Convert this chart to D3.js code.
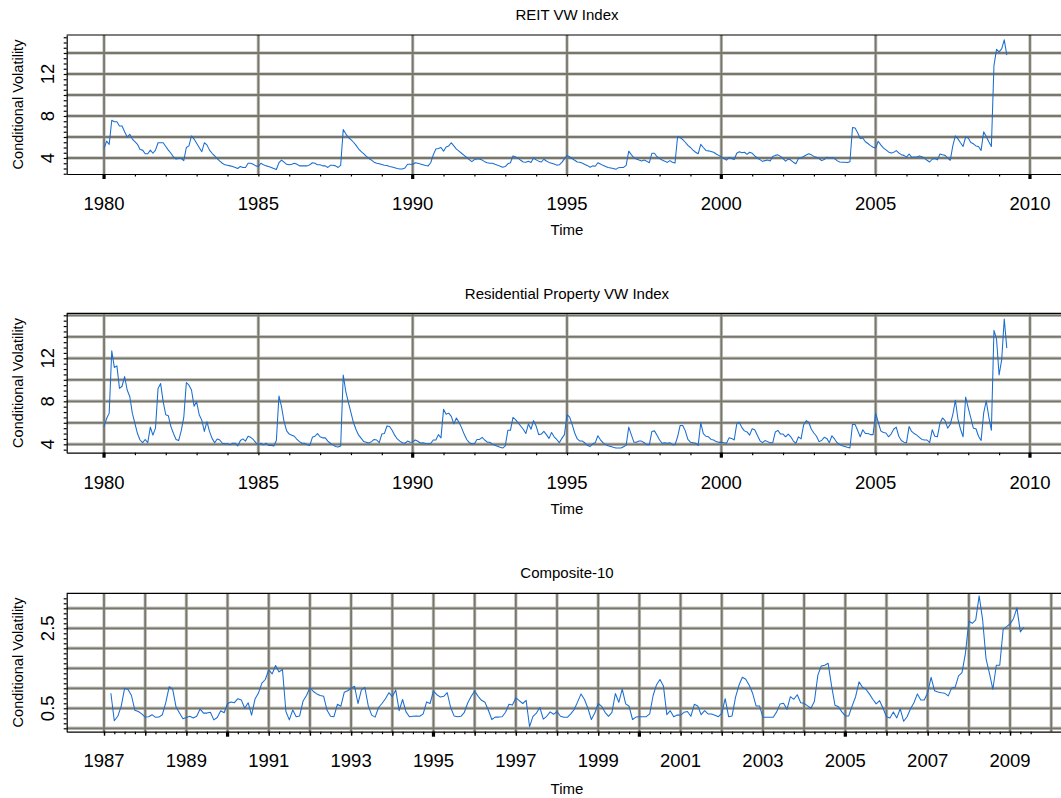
<!DOCTYPE html>
<html>
<head>
<meta charset="utf-8">
<script src="https://cdn.jsdelivr.net/npm/d3@7"></script>
<style>
  html, body { margin: 0; padding: 0; background: #fff; }
  svg { display: block; }
  text { font-family: "Liberation Sans", Arial, Helvetica, sans-serif; fill: #000; }
</style>
</head>
<body>
<svg id="chart" width="1061" height="798"></svg>
<script>
// ---- Monthly conditional volatility series ----

// REIT VW Index, January 1980 onwards
const reitStart = 1980;
const reitValues = [
  4.9, 5.6, 5.3, 7.6, 7.45, 7.45, 7.05, 7.05, 6.5, 6.0, 6.25, 5.8,
  5.55, 5.3, 4.8, 4.75, 4.4, 4.4, 4.75, 4.45, 4.75, 5.45, 5.45, 5.45,
  5.1, 4.75, 4.45, 4.1, 3.9, 3.95, 3.95, 3.75, 5.0, 5.15, 6.1, 5.8,
  5.4, 5.0, 4.6, 5.45, 5.25, 4.75, 4.45, 4.2, 3.95, 3.7, 3.5, 3.35,
  3.3, 3.25, 3.2, 3.1, 3.0, 3.2, 3.1, 3.1, 3.5, 3.5, 3.4, 3.25,
  3.2, 3.5, 3.35, 3.25, 3.2, 3.1, 3.0, 2.9, 3.55, 3.8, 3.6, 3.4,
  3.35, 3.4, 3.5, 3.4, 3.25, 3.25, 3.25, 3.25, 3.35, 3.55, 3.5, 3.35,
  3.35, 3.25, 3.25, 3.1, 3.3, 3.3, 3.25, 3.1, 3.3, 6.7, 6.3, 5.95,
  5.75, 5.5, 5.2, 4.85, 4.6, 4.4, 4.15, 3.95, 3.8, 3.6, 3.5, 3.45,
  3.38, 3.3, 3.28, 3.2, 3.15, 3.08, 3.0, 2.95, 2.95, 3.05, 3.4, 3.4,
  3.38, 3.55, 3.5, 3.42, 3.35, 3.28, 3.25, 3.55, 4.3, 4.85, 4.9, 5.0,
  4.65, 5.05, 5.15, 5.45, 5.15, 4.85, 4.65, 4.45, 4.25, 4.05, 3.85, 3.65,
  3.85, 3.9, 3.9, 3.8, 3.65, 3.55, 3.5, 3.5, 3.4, 3.32, 3.22, 3.12,
  3.18, 3.45, 3.55, 4.2, 4.1, 3.98, 3.78, 3.62, 3.6, 3.68, 3.58, 4.0,
  3.82, 3.7, 3.62, 3.88, 3.72, 3.58, 3.5, 3.42, 3.32, 3.35, 3.58, 3.92,
  4.25, 4.12, 3.95, 3.78, 3.62, 3.6, 3.5, 3.38, 3.27, 3.12, 3.25, 3.22,
  3.55, 3.42, 3.3, 3.2, 3.1, 3.05, 3.0, 2.92, 3.08, 3.1, 3.1, 3.3,
  4.65, 4.32, 4.02, 3.9, 3.8, 3.72, 3.8, 3.7, 3.55, 4.45, 4.45, 4.12,
  3.95, 3.8, 3.7, 3.58, 3.75, 3.6, 3.52, 6.05, 5.95, 5.75, 5.5, 5.2,
  5.0, 4.75, 4.55, 4.4, 5.3, 5.0, 4.72, 4.68, 4.62, 4.55, 4.38, 4.25,
  4.1, 3.95, 3.8, 4.05, 3.95, 3.85, 4.45, 4.6, 4.5, 4.55, 4.35, 4.55,
  4.45, 4.2, 4.0, 3.85, 3.68, 3.75, 3.8, 3.72, 4.15, 4.25, 4.3, 4.15,
  3.95, 3.7, 3.9, 3.8, 3.6, 3.45, 3.95, 4.0, 4.15, 4.28, 4.4, 4.3,
  4.15, 4.08, 3.95, 3.75, 3.85, 4.08, 4.0, 4.05, 3.95, 3.75, 3.62, 3.6,
  3.6, 3.57, 3.65, 6.9, 6.85, 6.4, 5.85, 5.9, 5.55, 5.38, 5.18, 5.02,
  4.95, 5.6, 5.25, 4.97, 4.78, 4.58, 4.47, 4.53, 4.7, 4.48, 4.32, 4.25,
  4.08, 4.38, 4.08, 4.1, 4.1, 4.18, 4.12, 3.97, 3.78, 3.62, 3.88, 3.95,
  3.82, 4.38, 4.3, 4.25, 4.02, 3.78, 5.15, 6.1, 5.82, 5.45, 5.1, 6.0,
  5.9, 5.48, 5.35, 5.15, 5.1, 4.72, 6.5, 6.05, 5.55, 5.1, 12.8, 14.35,
  14.1, 14.4, 15.25, 13.8
];

// Residential Property VW Index, January 1980 onwards
const residentialStart = 1980;
const residentialValues = [
  5.65, 6.4, 6.9, 12.7, 11.15, 11.3, 9.2, 9.4, 10.3, 9.05, 8.45, 6.9,
  5.95, 5.0, 4.4, 4.15, 4.45, 4.15, 5.6, 4.85, 5.5, 9.2, 9.65, 7.95,
  6.75, 6.65, 5.65, 5.0, 4.45, 4.35, 5.25, 6.5, 9.75, 9.5, 9.05, 7.55,
  7.95, 6.75, 6.25, 5.2, 6.1, 5.2, 4.55, 4.15, 4.5, 4.4, 4.1, 4.05,
  4.05, 3.95, 4.1, 4.1, 3.85, 4.35, 4.5, 4.3, 4.75, 4.65, 4.45, 4.15,
  3.95, 4.1, 3.95, 4.1, 3.9, 3.9, 3.85, 4.35, 8.5, 7.5, 6.1, 5.25,
  4.95, 4.85, 4.75, 4.45, 4.25, 4.1, 4.1, 3.95, 3.9, 4.65, 4.75, 5.0,
  4.7, 4.6, 4.6, 4.3, 4.1, 3.95, 3.8, 3.75, 3.85, 10.45, 8.9, 7.9,
  6.95, 6.0, 5.35, 4.85, 4.55, 4.25, 4.18, 4.12, 4.25, 4.45, 4.4, 4.15,
  4.95, 5.0, 5.7, 5.65, 5.3, 4.85, 4.5, 4.3, 4.15, 4.1, 4.3, 4.2,
  4.22, 4.4, 4.28, 4.12, 4.15, 4.08, 4.05, 4.08, 4.4, 4.4, 4.9, 4.6,
  7.25, 6.8, 6.9, 6.6, 5.9, 6.45, 6.05, 5.55, 4.95, 4.45, 4.15, 4.05,
  4.05, 4.45, 4.45, 4.65, 4.4, 4.2, 4.2, 4.0, 3.92, 3.82, 3.72, 3.65,
  3.85, 5.3, 5.3, 6.5, 6.3, 6.0, 5.7, 5.4, 5.0, 5.9, 5.4, 6.2,
  5.7, 4.9, 4.95, 5.2, 4.9, 4.55, 5.1, 4.7, 4.45, 4.15, 4.55, 4.9,
  6.75, 6.55, 5.85, 5.05, 4.5, 4.3, 4.3, 4.12, 3.88, 3.8, 4.05, 4.15,
  4.8, 4.42, 4.15, 3.97, 3.87, 3.8, 3.72, 3.66, 3.65, 3.65, 3.78, 3.9,
  5.6, 4.9, 4.2, 4.2, 4.3, 4.3, 4.15, 3.95, 3.95, 5.2, 5.25, 4.85,
  4.4, 4.1, 4.15, 4.1, 4.15, 3.95, 3.95, 4.7, 5.75, 5.75, 5.25, 4.45,
  4.2, 4.15, 4.1, 3.9, 6.0, 5.0, 4.75, 4.7, 4.45, 4.4, 4.25, 4.18,
  4.2, 4.15, 4.1, 4.6, 4.55, 4.4, 5.9, 6.05, 5.55, 5.25, 5.15, 4.85,
  5.45, 5.35, 4.85, 4.35, 4.15, 4.35, 4.25, 4.15, 4.15, 5.15, 5.3, 4.95,
  4.95, 4.7, 4.95, 4.7, 4.3, 4.1, 4.7, 4.5, 5.8, 6.2, 6.05, 5.4,
  5.05, 4.75, 4.25, 4.35, 4.65, 4.55, 4.15, 4.8, 4.5, 4.15, 3.98, 3.87,
  3.8, 3.72, 3.66, 5.85, 5.85, 5.3, 4.7, 5.35, 5.0, 5.0, 4.9, 4.9,
  6.9, 6.05, 5.25, 5.1, 5.05, 4.7, 4.95, 5.4, 5.6, 4.75, 4.35, 4.2,
  4.15, 5.65, 5.2, 5.0, 4.85, 4.65, 4.45, 4.4, 4.4, 4.15, 5.35, 4.75,
  4.7, 5.95, 6.45, 6.2, 5.5, 5.85, 6.75, 8.1, 6.35, 5.4, 4.7, 8.4,
  7.4, 6.45, 5.5, 5.45, 4.75, 4.35, 6.9, 8.05, 6.55, 5.3, 14.6, 13.8,
  10.45, 11.85, 15.65, 12.95
];

// Composite-10, March 1987 onwards
const compositeStart = 1987 + 2 / 12;
const compositeValues = [
  0.875, 0.19, 0.3, 0.55, 1.0, 0.97, 0.82, 0.45, 0.42, 0.36,
  0.28, 0.29, 0.34, 0.275, 0.28, 0.34, 0.64, 1.04, 0.98, 0.53, 0.38, 0.24,
  0.27, 0.3, 0.26, 0.3, 0.48, 0.38, 0.38, 0.4, 0.21, 0.27, 0.44, 0.39,
  0.62, 0.66, 0.64, 0.74, 0.71, 0.5, 0.64, 0.33, 0.73, 0.88, 1.13, 1.22,
  1.46, 1.36, 1.57, 1.41, 1.47, 0.42, 0.21, 0.46, 0.29, 0.31, 0.68, 0.82,
  1.02, 0.92, 0.86, 0.82, 0.8, 0.45, 0.3, 0.29, 0.6, 0.55, 0.9, 0.94,
  1.0, 1.05, 0.62, 0.96, 1.02, 0.56, 0.33, 0.28, 0.52, 0.62, 0.74, 0.89,
  0.79, 0.96, 0.44, 0.72, 0.41, 0.29, 0.3, 0.31, 0.3, 0.36, 0.66, 0.62,
  0.93, 0.84, 0.78, 0.8, 0.89, 0.52, 0.31, 0.29, 0.3, 0.4, 0.64, 0.8,
  0.93, 0.8, 0.7, 0.65, 0.45, 0.22, 0.28, 0.28, 0.29, 0.4, 0.6, 0.58,
  0.76, 0.69, 0.62, 0.7, 0.04, 0.3, 0.38, 0.52, 0.23, 0.3, 0.41, 0.35,
  0.42, 0.3, 0.275, 0.275, 0.36, 0.47, 0.66, 0.86, 0.72, 0.5, 0.22, 0.38,
  0.62, 0.55, 0.4, 0.3, 0.4, 0.87, 0.65, 0.98, 0.61, 0.55, 0.22, 0.28,
  0.29, 0.29, 0.29, 0.36, 0.82, 1.09, 1.22, 1.06, 0.34, 0.44, 0.29, 0.33,
  0.33, 0.4, 0.42, 0.3, 0.6, 0.56, 0.34, 0.44, 0.36, 0.36, 0.325, 0.29,
  0.375, 0.74, 0.29, 0.31, 0.775, 1.075, 1.275, 1.225, 1.075, 0.875, 0.56, 0.56,
  0.275, 0.275, 0.275, 0.275, 0.41, 0.61, 0.625, 0.475, 0.79, 0.725, 0.84, 0.64,
  0.625, 0.56, 0.5, 0.675, 1.33, 1.56, 1.575, 1.625, 1.06, 0.575, 0.54, 0.41,
  0.31, 0.31, 0.56, 0.79, 1.16, 1.025, 0.975, 0.86, 0.725, 0.61, 0.69, 0.5,
  0.29, 0.26, 0.41, 0.26, 0.49, 0.175, 0.29, 0.49, 0.64, 0.86, 0.71, 0.71,
  0.89, 1.275, 0.94, 0.91, 0.89, 0.875, 0.81, 1.01, 1.025, 1.31, 1.39, 1.875,
  2.675, 2.625, 2.71, 3.31, 2.725, 1.74, 1.375, 0.975, 1.575, 1.575, 2.475, 2.54,
  2.61, 2.74, 3.01, 2.41, 2.525
];

// ---- Axis ticks, grid values and labels ----
const longYearLabels = [1980, 1985, 1990, 1995, 2000, 2005, 2010];
const longBoldTicks = [1980, 1990, 2000, 2010];
const compYearLabels = [1987, 1989, 1991, 1993, 1995, 1997, 1999, 2001, 2003, 2005, 2007, 2009];
const compBoldTicks = [1990, 1995, 2000, 2005];

const reitGrid = [4, 6, 8, 10, 12, 14];
const reitYLabels = [4, 8, 12];
const residentialGrid = [4, 6, 8, 10, 12, 14, 16];
const residentialYLabels = [4, 8, 12];
const compositeGrid = [0, 0.5, 1, 1.5, 2, 2.5, 3];
const compositeYLabels = [0.5, 2.5];

const titles = ["REIT VW Index", "Residential Property VW Index", "Composite-10"];

// ---- Panel layout ----
const panels = [
  {
    title: titles[0], start: reitStart, values: reitValues,
    top: 35, bottom: 174, xDomain: [1978.79, 2011.2], yDomain: [2.476, 15.714],
    hGrid: reitGrid, yLabels: reitYLabels, yMinor: 0.5,
    vGrid: d3.range(1980, 2011, 5), minorX: d3.range(1980, 2010.01, 1), yearX: [],
    boldX: longBoldTicks, xLabels: longYearLabels,
    titleY: 20, labelY: 209.5, timeY: 235
  },
  {
    title: titles[1], start: residentialStart, values: residentialValues,
    top: 313.3, bottom: 452.7, xDomain: [1978.79, 2011.2], yDomain: [3.219, 16.186],
    hGrid: residentialGrid, yLabels: residentialYLabels, yMinor: 0.5,
    vGrid: d3.range(1980, 2011, 5), minorX: d3.range(1980, 2010.01, 1), yearX: [],
    boldX: longBoldTicks, xLabels: longYearLabels,
    titleY: 299.3, labelY: 488.5, timeY: 513.5
  },
  {
    title: titles[2], start: compositeStart, values: compositeValues,
    top: 593.3, bottom: 731.7, xDomain: [1986.094, 2010.383], yDomain: [-0.085, 3.375],
    hGrid: compositeGrid, yLabels: compositeYLabels, yMinor: 0.125,
    vGrid: d3.range(1987, 2011, 1), minorX: d3.range(1987, 2009.51, 0.25), yearX: d3.range(1987, 2010, 1),
    boldX: compBoldTicks, xLabels: compYearLabels,
    titleY: 578.3, labelY: 766.7, timeY: 793.5
  }
];

const plotLeft = 66.7, plotRight = 1067;
const svg = d3.select("#chart");
svg.append("rect").attr("width", 1061).attr("height", 798).attr("fill", "#fff");

const gridOuter = "#c6c5bd", gridInner = "#78776e";

panels.forEach(p => {
  const x = d3.scaleLinear().domain(p.xDomain).range([plotLeft, plotRight]);
  const y = d3.scaleLinear().domain(p.yDomain).range([p.bottom, p.top]);
  const g = svg.append("g");

  // grid: a soft wide stroke under a darker core
  [[gridOuter, 3.4], [gridInner, 1.8]].forEach(([col, w]) => {
    g.append("g").selectAll("line.h").data(p.hGrid).join("line")
      .attr("x1", plotLeft).attr("x2", plotRight)
      .attr("y1", d => y(d)).attr("y2", d => y(d))
      .attr("stroke", col).attr("stroke-width", w);
    g.append("g").selectAll("line.v").data(p.vGrid).join("line")
      .attr("x1", d => x(d)).attr("x2", d => x(d))
      .attr("y1", p.top).attr("y2", p.bottom)
      .attr("stroke", col).attr("stroke-width", w);
  });

  // series
  const pts = p.values.map((v, i) => [p.start + i / 12, v]);
  g.append("path").datum(pts)
    .attr("fill", "none").attr("stroke", "#1a6dd0").attr("stroke-width", 1.05)
    .attr("stroke-linejoin", "round")
    .attr("d", d3.line().x(d => x(d[0])).y(d => y(d[1])));

  // top border
  g.append("line").attr("x1", plotLeft).attr("x2", plotRight)
    .attr("y1", p.top).attr("y2", p.top).attr("stroke", "#000").attr("stroke-width", 1.2);

  // left axis with minor ticks
  const yMinor = d3.range(Math.ceil(p.yDomain[0] / p.yMinor) * p.yMinor, p.yDomain[1], p.yMinor);
  const yAxis = d3.axisLeft(y).tickValues(yMinor).tickSize(3).tickSizeOuter(0).tickFormat("");
  g.append("g").attr("transform", `translate(${plotLeft},0)`).call(yAxis)
    .call(a => a.selectAll("path,line").attr("stroke", "#000").attr("stroke-width", 1.2));

  // bottom axis with minor ticks
  const xAxis = d3.axisBottom(x).tickValues(p.minorX).tickSize(2.5).tickSizeOuter(0).tickFormat("");
  g.append("g").attr("transform", `translate(0,${p.bottom})`).call(xAxis)
    .call(a => a.selectAll("path,line").attr("stroke", "#000").attr("stroke-width", 1.2));
  if (p.yearX.length) {
    const yearAxis = d3.axisBottom(x).tickValues(p.yearX).tickSize(4).tickSizeOuter(0).tickFormat("");
    g.append("g").attr("transform", `translate(0,${p.bottom})`).call(yearAxis)
      .call(a => a.select("path").remove())
      .call(a => a.selectAll("line").attr("stroke", "#000").attr("stroke-width", 1.4));
  }
  // bold major ticks
  g.append("g").selectAll("rect").data(p.boldX).join("rect")
    .attr("x", d => x(d) - 1.6).attr("y", p.bottom).attr("width", 3.2).attr("height", 5)
    .attr("fill", "#000");

  // tick labels
  g.append("g").selectAll("text").data(p.xLabels).join("text")
    .attr("x", d => x(d)).attr("y", p.labelY).attr("text-anchor", "middle")
    .attr("font-size", 18.5).text(d => d);
  g.append("g").selectAll("text").data(p.yLabels).join("text")
    .attr("transform", d => `translate(53.5,${y(d)}) rotate(-90)`)
    .attr("text-anchor", "middle").attr("font-size", 18.5).text(d => d);

  // titles
  g.append("text").attr("x", 567).attr("y", p.titleY).attr("text-anchor", "middle")
    .attr("font-size", 15).text(p.title);
  g.append("text").attr("x", 567).attr("y", p.timeY).attr("text-anchor", "middle")
    .attr("font-size", 15).text("Time");
  g.append("text")
    .attr("transform", `translate(22.5,${(p.top + p.bottom) / 2}) rotate(-90)`)
    .attr("text-anchor", "middle").attr("font-size", 14.5).text("Conditional Volatility");
});
</script>
</body>
</html>
